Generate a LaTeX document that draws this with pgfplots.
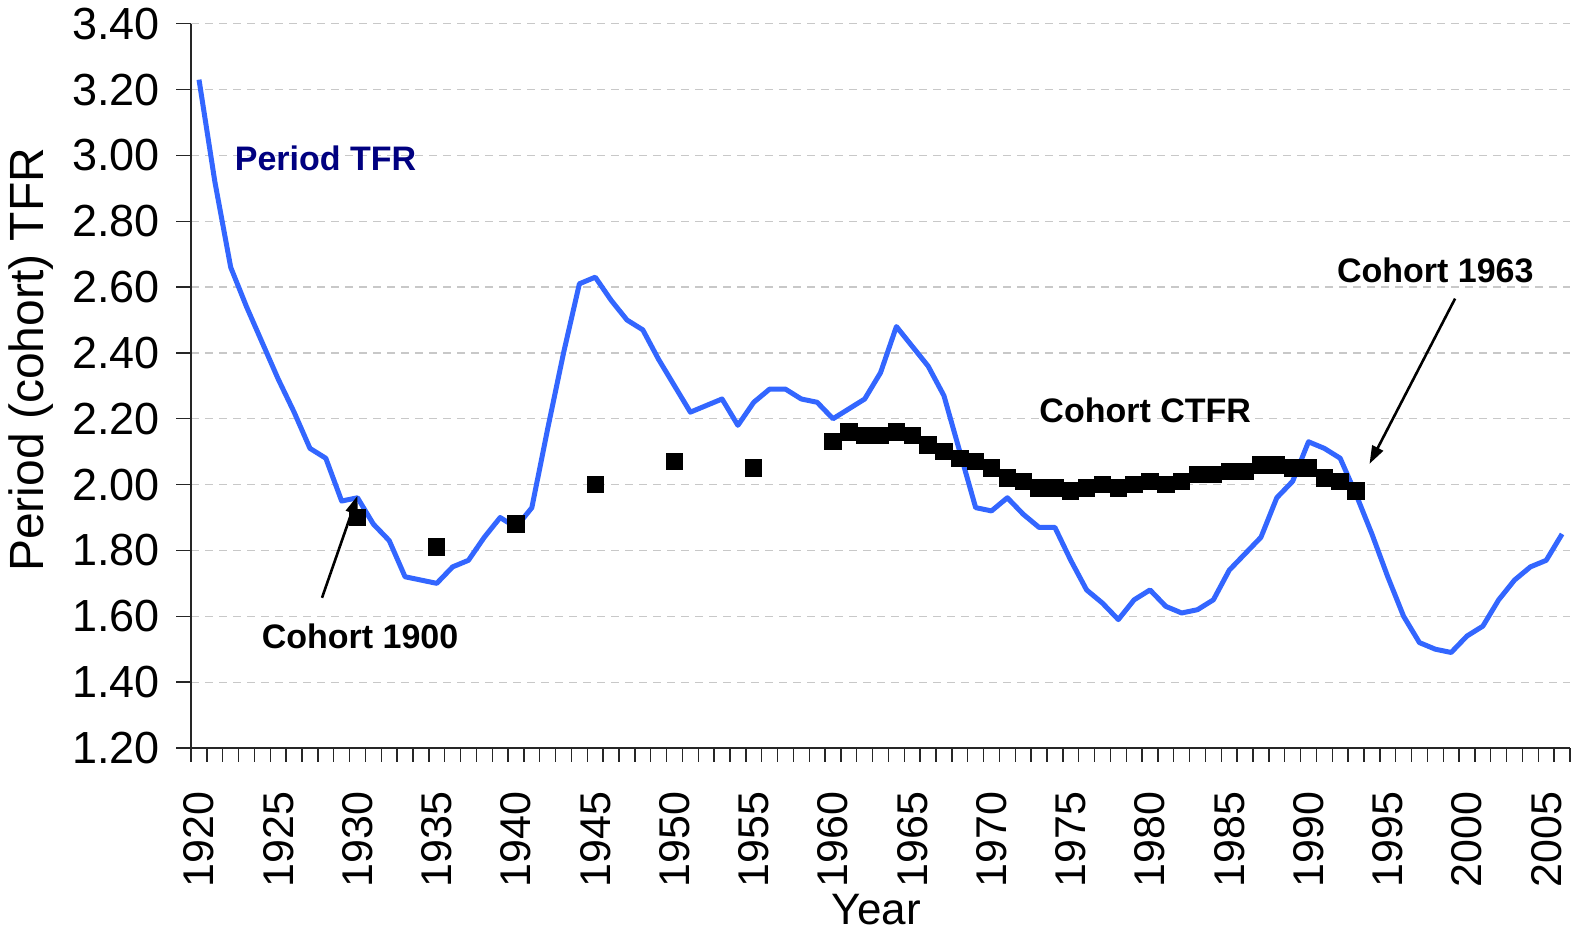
\documentclass[border=0pt]{standalone}
\usepackage{pgfplots}
\pgfplotsset{compat=1.18}
\usepackage{fontspec}
\setmainfont{Liberation Sans}
\usetikzlibrary{arrows.meta}
\definecolor{tfrblue}{RGB}{51,102,255}
\definecolor{navy}{RGB}{0,0,128}
\definecolor{gridgray}{RGB}{200,200,200}

\pgfplotstableread{
year tfr
1920 3.23
1921 2.92
1922 2.66
1923 2.54
1924 2.43
1925 2.32
1926 2.22
1927 2.11
1928 2.08
1929 1.95
1930 1.96
1931 1.88
1932 1.83
1933 1.72
1934 1.71
1935 1.70
1936 1.75
1937 1.77
1938 1.84
1939 1.90
1940 1.87
1941 1.93
1942 2.17
1943 2.40
1944 2.61
1945 2.63
1946 2.56
1947 2.50
1948 2.47
1949 2.38
1950 2.30
1951 2.22
1952 2.24
1953 2.26
1954 2.18
1955 2.25
1956 2.29
1957 2.29
1958 2.26
1959 2.25
1960 2.20
1961 2.23
1962 2.26
1963 2.34
1964 2.48
1965 2.42
1966 2.36
1967 2.27
1968 2.10
1969 1.93
1970 1.92
1971 1.96
1972 1.91
1973 1.87
1974 1.87
1975 1.77
1976 1.68
1977 1.64
1978 1.59
1979 1.65
1980 1.68
1981 1.63
1982 1.61
1983 1.62
1984 1.65
1985 1.74
1986 1.79
1987 1.84
1988 1.96
1989 2.01
1990 2.13
1991 2.11
1992 2.08
1993 1.97
1994 1.85
1995 1.72
1996 1.60
1997 1.52
1998 1.50
1999 1.49
2000 1.54
2001 1.57
2002 1.65
2003 1.71
2004 1.75
2005 1.77
2006 1.85
}\periodtbl

\pgfplotstableread{
year ctfr
1930 1.90
1935 1.81
1940 1.88
1945 2.00
1950 2.07
1955 2.05
1960 2.13
1961 2.16
1962 2.15
1963 2.15
1964 2.16
1965 2.15
1966 2.12
1967 2.10
1968 2.08
1969 2.07
1970 2.05
1971 2.02
1972 2.01
1973 1.99
1974 1.99
1975 1.98
1976 1.99
1977 2.00
1978 1.99
1979 2.00
1980 2.01
1981 2.00
1982 2.01
1983 2.03
1984 2.03
1985 2.04
1986 2.04
1987 2.06
1988 2.06
1989 2.05
1990 2.05
1991 2.02
1992 2.01
1993 1.98
}\cohorttbl

\begin{document}
\begin{tikzpicture}
\begin{axis}[
  scale only axis,
  width=689.5pt, height=362.15pt,
  xmin=1919.5, xmax=2006.5,
  ymin=1.2, ymax=3.4,
  axis x line*=bottom, axis y line*=left,
  axis line style={black!85, line width=0.7pt},
  tick align=outside,
  xtick={1920,1925,...,2005},
  minor xtick={1919.5,1920.5,...,2006.5},
  major x tick style={draw=none},
  minor tick length=7pt,
  major tick length=7.5pt,
  tick style={black!85, line width=0.7pt},
  ytick={1.2,1.4,1.6,1.8,2.0,2.2,2.4,2.6,2.8,3.0,3.2,3.4},
  /pgf/number format/assume math mode=true,
  yticklabel style={/pgf/number format/.cd, fixed, fixed zerofill, precision=2, /tikz/.cd, font=\fontsize{22.5}{26}\selectfont},
  xticklabel style={/pgf/number format/1000 sep={}, rotate=90, anchor=east, font=\fontsize{21.5}{25}\selectfont},
  xticklabel shift=11pt,
  yticklabel shift=4.5pt,
  ymajorgrids,
  major grid style={dash pattern=on 4pt off 3pt, draw=gridgray, line width=0.6pt},
  every axis x label/.style={at={([yshift=-81pt]rel axis cs:0.497,0)}, anchor=center, font=\fontsize{22}{26}\selectfont},
  every axis y label/.style={at={([xshift=-80pt]rel axis cs:0,0.536)}, anchor=center, rotate=90, font=\fontsize{24}{28}\selectfont},
  xlabel={Year},
  ylabel={Period (cohort) TFR},
]
\coordinate (bl) at (rel axis cs:0,0);
\coordinate (tr) at (rel axis cs:1,1);
\addplot[tfrblue, line width=2.5pt, line join=round, mark=none] table[x=year, y=tfr] {\periodtbl};
\addplot[only marks, mark=square*, mark size=4.1pt, mark options={fill=black, draw=black, line width=0.5pt}] table[x=year, y=ctfr] {\cohorttbl};
\node[font=\bfseries\fontsize{17}{20}\selectfont, text=navy, anchor=center] at (axis cs:1927.98,2.992) {Period TFR};
\node[font=\bfseries\fontsize{17}{20}\selectfont, anchor=center] at (axis cs:1930.16,1.54) {Cohort 1900};
\node[font=\bfseries\fontsize{17}{20}\selectfont, anchor=center] at (axis cs:1979.7,2.227) {Cohort CTFR};
\node[font=\bfseries\fontsize{17}{20}\selectfont, anchor=center] at (axis cs:1998.0,2.652) {Cohort 1963};
\draw[black, line width=1.3pt, -{Triangle[length=9pt, width=6pt]}] (axis cs:1927.76,1.656) -- (axis cs:1930.0,1.966);
\draw[black, line width=1.3pt, -{Triangle[length=9pt, width=6pt]}] (axis cs:1999.25,2.565) -- (axis cs:1993.85,2.063);
\end{axis}
\pgfresetboundingbox
\path ([shift={(-95.55pt,-94pt)}]bl) rectangle ([shift={(1.5pt,11.85pt)}]tr);
\end{tikzpicture}
\end{document}
